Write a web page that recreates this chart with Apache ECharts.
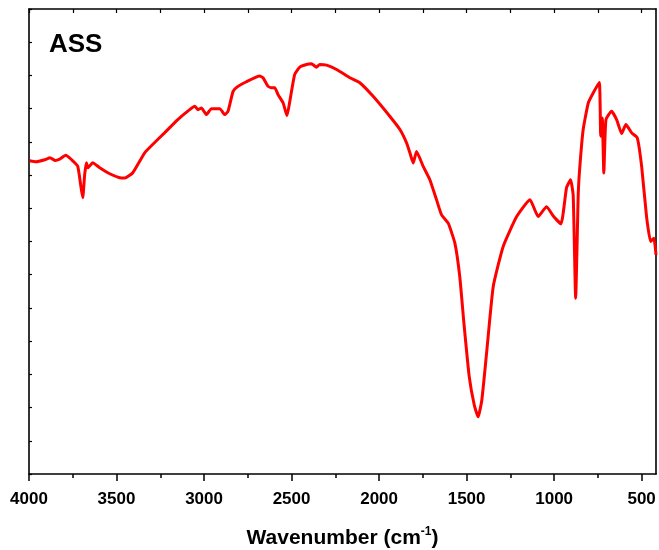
<!DOCTYPE html>
<html>
<head>
<meta charset="utf-8">
<script src="https://cdn.jsdelivr.net/npm/echarts@6/dist/echarts.min.js"></script>
<style>
  html, body { margin: 0; padding: 0; background: #fff; }
  #main { width: 659px; height: 550px; }
</style>
</head>
<body>
<div id="main"></div>
<script>
// ==================================================
// data
var wavenumber = [
  3996, 3960, 3910, 3880, 3850, 3825, 3790, 3756, 3722, 3705, 3693, 3682, 3672, 3663, 3636,
  3596, 3539, 3482, 3453, 3407, 3339, 3282, 3224, 3150, 3082, 3053, 3034, 3015, 2986, 2958,
  2910, 2882, 2863, 2834, 2806, 2758, 2682, 2663, 2634, 2615, 2596, 2577, 2548, 2526, 2510,
  2482, 2453, 2415, 2386, 2358, 2339, 2300, 2243, 2167, 2110, 2034, 1939, 1881, 1843, 1824,
  1805, 1786, 1748, 1710, 1672, 1643, 1605, 1567, 1539, 1516, 1485, 1456, 1434, 1413, 1386,
  1348, 1291, 1214, 1138, 1091, 1043, 1005, 961, 929, 906, 891, 877, 862, 853, 834,
  805, 777, 742, 734, 725, 716, 704, 672, 643, 614, 590, 557, 525, 500, 472,
  449, 430, 418
];
var transmit = [
  9.43, 9.40, 9.46, 9.52, 9.44, 9.48, 9.60, 9.46, 9.27, 8.71, 8.32, 9.01, 9.37, 9.22, 9.37,
  9.22, 9.04, 8.92, 8.91, 9.07, 9.67, 9.98, 10.28, 10.67, 10.97, 11.07, 10.97, 11.02, 10.82, 11.00,
  11.00, 10.82, 10.92, 11.52, 11.67, 11.81, 11.98, 11.93, 11.67, 11.63, 11.63, 11.42, 11.17, 10.79, 11.22,
  12.03, 12.25, 12.33, 12.35, 12.25, 12.33, 12.31, 12.18, 11.93, 11.78, 11.37, 10.77, 10.37, 9.97, 9.67,
  9.36, 9.71, 9.26, 8.86, 8.26, 7.80, 7.55, 6.95, 5.94, 4.58, 2.93, 2.07, 1.72, 2.23, 3.63,
  5.64, 6.85, 7.75, 8.26, 7.75, 8.05, 7.77, 7.53, 8.62, 8.86, 8.38, 5.29, 8.46, 9.26, 10.37,
  11.17, 11.47, 11.79, 10.17, 10.72, 9.06, 10.67, 10.92, 10.67, 10.25, 10.52, 10.27, 10.12, 9.26, 7.75,
  7.00, 7.10, 6.60
];
var majorTicks = [4000, 3500, 3000, 2500, 2000, 1500, 1000, 500];
var minorTicks = [3750, 3250, 2750, 2250, 1750, 1250, 750];
var allTicks = majorTicks.concat(minorTicks);

var seriesData = [];
for (var i = 0; i < wavenumber.length; i++) {
  seriesData.push([wavenumber[i], transmit[i]]);
}

var chart = echarts.init(document.getElementById('main'), null, { renderer: 'canvas' });

var axisBase = {
  type: 'value',
  min: 418,
  max: 4000,
  inverse: true,
  splitLine: { show: false },
  axisLine: { show: true, onZero: false, lineStyle: { color: '#000', width: 1.6 } }
};

var option = {
  animation: false,
  backgroundColor: '#fff',
  grid: { left: 29, top: 9, width: 627, height: 465, containLabel: false, outerBoundsMode: 'none' },
  title: {
    text: 'ASS',
    left: 44,
    top: 27,
    textStyle: { fontFamily: 'Liberation Sans', fontWeight: 'bold', fontSize: 26, color: '#000' }
  },
  xAxis: [
    Object.assign({}, axisBase, {
      position: 'bottom',
      axisTick: { show: true, inside: false, length: 7, customValues: majorTicks, lineStyle: { color: '#000', width: 1.5 } },
      axisLabel: {
        show: true, customValues: majorTicks, margin: 17,
        formatter: function (v) { return String(v); },
        fontFamily: 'Liberation Sans', fontWeight: 'bold', fontSize: 17, color: '#000'
      },
      name: '{n|Wavenumber (cm}{s|-1}{n|)}',
      nameLocation: 'middle',
      nameGap: 52,
      nameTextStyle: {
        rich: {
          n: { fontFamily: 'Liberation Sans', fontWeight: 'bold', fontSize: 21, color: '#000', lineHeight: 24 },
          s: { fontFamily: 'Liberation Sans', fontWeight: 'bold', fontSize: 12, color: '#000', verticalAlign: 'top', lineHeight: 24, padding: [0, 0, 14, 0] }
        }
      }
    }),
    Object.assign({}, axisBase, {
      position: 'bottom',
      axisLine: { show: false },
      axisTick: { show: true, inside: false, length: 4, customValues: minorTicks, lineStyle: { color: '#000', width: 1.5 } },
      axisLabel: { show: false }
    }),
    Object.assign({}, axisBase, {
      position: 'top',
      axisTick: { show: true, inside: true, length: 4, customValues: allTicks, lineStyle: { color: '#000', width: 1.2 } },
      axisLabel: { show: false }
    })
  ],
  yAxis: [
    {
      type: 'value', min: 0, max: 14, interval: 1, position: 'left',
      splitLine: { show: false },
      axisLine: { show: true, lineStyle: { color: '#000', width: 1.6 } },
      axisTick: { show: true, inside: true, length: 3, lineStyle: { color: '#000', width: 1.2 } },
      axisLabel: { show: false }
    },
    {
      type: 'value', min: 0, max: 14, interval: 1, position: 'right',
      splitLine: { show: false },
      axisLine: { show: true, lineStyle: { color: '#000', width: 1.6 } },
      axisTick: { show: false },
      axisLabel: { show: false }
    }
  ],
  series: [
    {
      type: 'line',
      xAxisIndex: 0,
      yAxisIndex: 0,
      data: seriesData,
      showSymbol: false,
      smooth: 0.15,
      clip: true,
      lineStyle: { color: '#ff0000', width: 3 }
    }
  ]
};

chart.setOption(option);

// 自动适应
window.addEventListener('resize', function () {
  chart.resize();
});
</script>
</body>
</html>
